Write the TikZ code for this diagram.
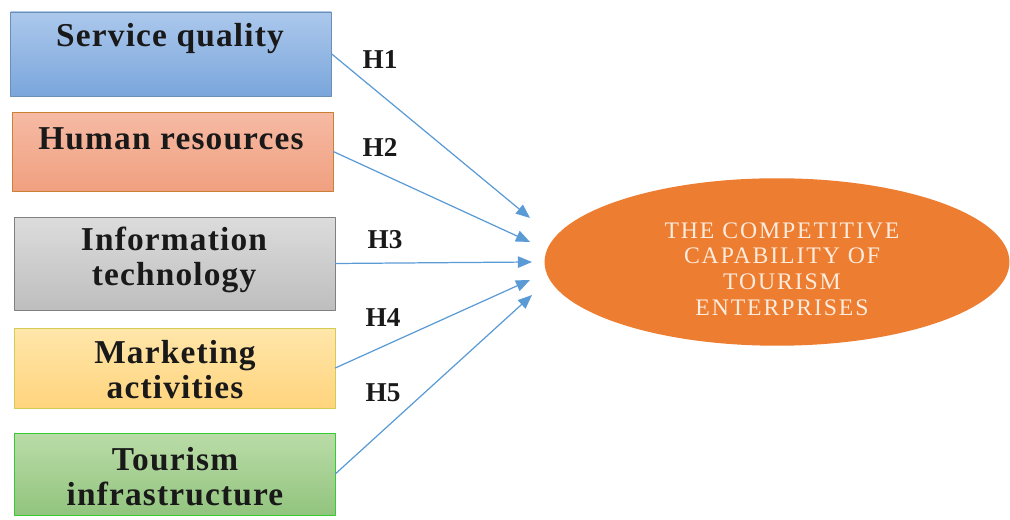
\documentclass[tikz,border=0pt]{standalone}
\usepackage{fontspec}
\setmainfont{Liberation Serif}
\newfontfamily\boxfont[LetterSpace=3.5]{Liberation Serif}
\newfontfamily\goalfont[LetterSpace=8]{Liberation Serif}
\usetikzlibrary{arrows.meta,shapes.geometric}

\definecolor{linkblue}{HTML}{5B9BD5}
\definecolor{goalorange}{HTML}{ED7D31}

\tikzset{
  factor/.style={draw=#1!60!gray, line width=0.3pt, minimum width=6.42cm, inner sep=0pt},
  factortext/.style={font=\boxfont\fontsize{19}{20}\selectfont\bfseries, align=center, text=black!90},
  hyp/.style={font=\fontsize{15.5}{16}\selectfont\bfseries, text=black!90},
  link/.style={draw=linkblue, line width=0.7pt, -{Triangle[length=8pt,width=6.5pt]}}
}

\begin{document}
\begin{tikzpicture}[x=0.02cm, y=0.02cm, line join=round]

\useasboundingbox (0,0) rectangle (1010,520);

% factor boxes
\node[factor=linkblue, minimum height=1.68cm, top color={rgb,255:red,172;green,200;blue,236}, bottom color={rgb,255:red,122;green,166;blue,220}] (sq) at (171,466) {};
\node[factor=orange, minimum height=1.58cm, top color={rgb,255:red,246;green,186;blue,164}, bottom color={rgb,255:red,240;green,160;blue,128}] (hr) at (172.5,368.5) {};
\node[factor=gray, minimum height=1.86cm, top color={rgb,255:red,220;green,220;blue,220}, bottom color={rgb,255:red,190;green,190;blue,190}] (it) at (174.5,256.5) {};
\node[factor=yellow, minimum height=1.60cm, top color={rgb,255:red,255;green,230;blue,170}, bottom color={rgb,255:red,255;green,212;blue,125}] (ma) at (174.5,152) {};
\node[factor=green, minimum height=1.64cm, top color={rgb,255:red,186;green,220;blue,168}, bottom color={rgb,255:red,146;green,196;blue,126}] (ti) at (174.5,46) {};

\node[factortext] (sqtext) at (170,481) {Service quality};
\node[factortext] (hrtext) at (171,381) {Human resources};
\node[factortext] (ittext) at (174,260) {Information\\technology};
\node[factortext] (matext) at (175,150) {Marketing\\activities};
\node[factortext] (titext) at (175,43) {Tourism\\infrastructure};

% outcome
\node[ellipse, fill=goalorange, minimum width=9.3cm, minimum height=3.35cm, inner sep=0pt] (goal) at (777,258) {};
\node[font=\goalfont\fontsize{13.5}{14.6}\selectfont, align=center, text={rgb,255:red,253;green,236;blue,222}] (goaltext) at (782,251)
  {THE COMPETITIVE\\CAPABILITY OF\\TOURISM\\ENTERPRISES};

% arrow ends
\coordinate (t1) at (530,302);
\coordinate (t2) at (530,278);
\coordinate (t3) at (532,258);
\coordinate (t4) at (530,240);
\coordinate (t5) at (532,225);

\draw[link] (sq.east) -- (t1);
\draw[link] (hr.east) -- (t2);
\draw[link] (it.east) -- (t3);
\draw[link] (ma.east) -- (t4);
\draw[link] (ti.east) -- (t5);

\node[hyp] (h1) at (380,460) {H1};
\node[hyp] (h2) at (380,373) {H2};
\node[hyp] (h3) at (385,280) {H3};
\node[hyp] (h4) at (383,202) {H4};
\node[hyp] (h5) at (383,127) {H5};

\end{tikzpicture}
\end{document}
